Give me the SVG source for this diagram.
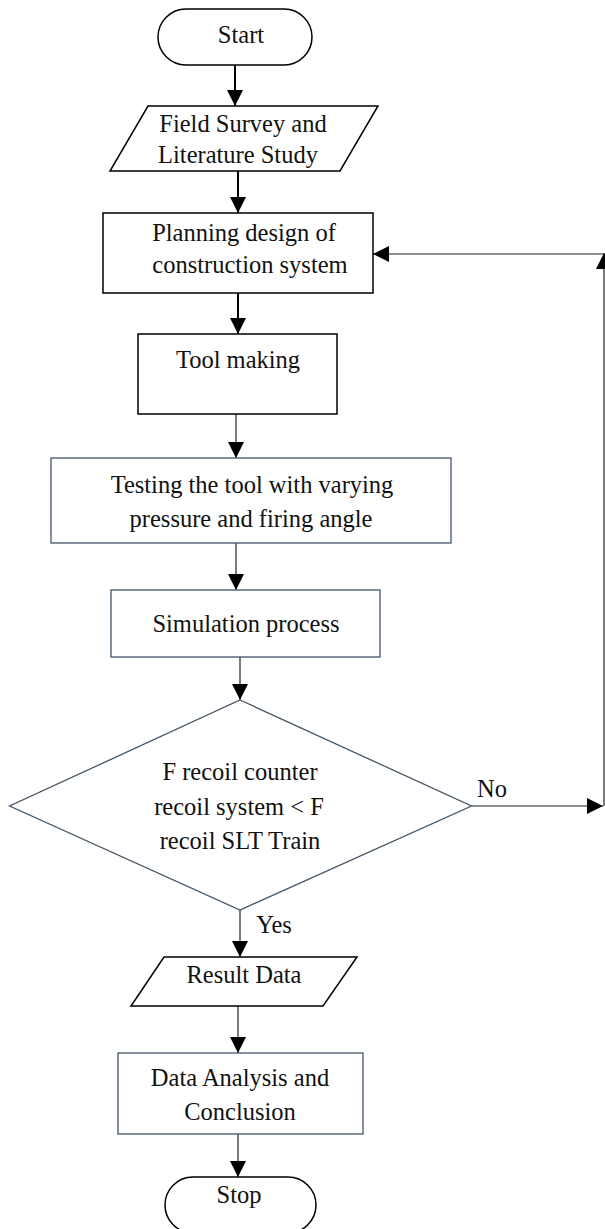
<svg xmlns="http://www.w3.org/2000/svg" width="605" height="1229" viewBox="0 0 605 1229">
<style>
text{font-family:"Liberation Serif","Times New Roman",serif;font-size:24.5px;fill:#111;text-anchor:middle}
.k{fill:#fff;stroke:#000;stroke-width:1.5}
.b{fill:#fff;stroke:#44546a;stroke-width:1.3}
.c1{stroke:#000;stroke-width:2;fill:none}
.c2{stroke:#222;stroke-width:1.2;fill:none}
</style>
<defs>
<marker id="ah" markerUnits="userSpaceOnUse" markerWidth="16" markerHeight="16" refX="16" refY="8" orient="auto" viewBox="0 0 16 16">
<path d="M0,0 L16,8 L0,16 z" fill="#000"/>
</marker>
</defs>
<g id="connectors">
<line class="c1" x1="235" y1="65" x2="235" y2="106" marker-end="url(#ah)"/>
<line class="c1" x1="238" y1="171" x2="238" y2="213" marker-end="url(#ah)"/>
<line class="c1" x1="238" y1="293" x2="238" y2="334" marker-end="url(#ah)"/>
<line class="c2" x1="236" y1="414" x2="236" y2="458" marker-end="url(#ah)"/>
<line class="c2" x1="236" y1="543" x2="236" y2="590" marker-end="url(#ah)"/>
<line class="c2" x1="240" y1="657" x2="240" y2="700" marker-end="url(#ah)"/>
<line class="c2" x1="240" y1="910" x2="240" y2="957" marker-end="url(#ah)"/>
<line class="c2" x1="238" y1="1006" x2="238" y2="1053" marker-end="url(#ah)"/>
<line class="c2" x1="238" y1="1134" x2="238" y2="1177" marker-end="url(#ah)"/>
<line class="c2" x1="471.5" y1="806" x2="603" y2="806" marker-end="url(#ah)"/>
<line class="c2" x1="604" y1="806" x2="604" y2="253" marker-end="url(#ah)"/>
<line class="c2" x1="604" y1="254" x2="373" y2="254" marker-end="url(#ah)"/>
<text x="492" y="797">No</text>
<text x="274" y="933">Yes</text>
</g>
<g id="start">
<rect class="k" x="158" y="9" width="154" height="56" rx="28" ry="28"/>
<text x="241" y="43">Start</text>
</g>
<g id="field">
<polygon class="k" points="148,106 378,106 340,171 110,171"/>
<text x="243" y="132">Field Survey and</text>
<text x="238" y="163">Literature Study</text>
</g>
<g id="planning">
<rect class="k" x="103" y="213" width="270" height="80"/>
<text x="244" y="241">Planning design of</text>
<text x="250" y="273">construction system</text>
</g>
<g id="tool">
<rect class="k" x="138" y="334" width="199" height="80"/>
<text x="238" y="368">Tool making</text>
</g>
<g id="testing">
<rect class="b" x="51" y="458" width="400" height="85"/>
<text x="252" y="493">Testing the tool with varying</text>
<text x="251" y="527">pressure and firing angle</text>
</g>
<g id="simulation">
<rect class="b" x="111" y="590" width="269" height="67"/>
<text x="246" y="632">Simulation process</text>
</g>
<g id="decision">
<polygon class="b" points="240,700 471.5,806 240,910 9.6,806"/>
<text x="240" y="780">F recoil counter</text>
<text x="239" y="815">recoil system &lt; F</text>
<text x="240" y="849">recoil SLT Train</text>
</g>
<g id="result">
<polygon class="k" points="164,957 357,957 323,1006 131,1006"/>
<text x="244" y="983">Result Data</text>
</g>
<g id="analysis">
<rect class="b" x="118" y="1053" width="245" height="81"/>
<text x="240" y="1086">Data Analysis and</text>
<text x="240" y="1120">Conclusion</text>
</g>
<g id="stop">
<rect class="k" x="165" y="1177" width="151" height="56" rx="28" ry="28"/>
<text x="239" y="1203">Stop</text>
</g>
</svg>
